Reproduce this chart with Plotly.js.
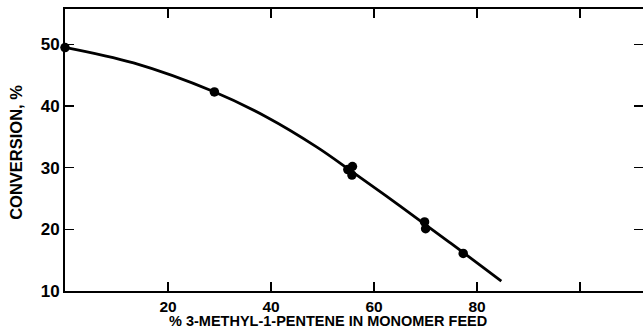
<!DOCTYPE html>
<html>
<head>
<meta charset="utf-8">
<script src="https://cdn.plot.ly/plotly-3.0.1.min.js"></script>
<style>
html,body{margin:0;padding:0;background:#fff;}
#chart{width:643px;height:331px;}
</style>
</head>
<body>
<div id="chart"></div>
<script>
// Measured points
var pointX = [0, 29.0, 54.9, 55.8, 55.7, 69.8, 70.0, 77.3];
var pointY = [49.5, 42.3, 29.7, 30.2, 28.8, 21.2, 20.1, 16.1];

// Fitted curve
var curveX = [0.2, 13.3, 28.7, 39.2, 48.9, 55.5, 65.0, 74.8, 84.7];
var curveY = [49.5, 47.0, 42.4, 38.2, 33.35, 29.5, 23.8, 17.8, 11.6];

var xTickVals = [20, 40, 60, 80, 100];
var xTickText = ['20', '40', '60', '80', ''];
var yTickVals = [10, 20, 30, 40, 50];
var yTickText = ['10', '20', '30', '40', '50'];

var xTitle = '% 3-METHYL-1-PENTENE IN MONOMER FEED';
var yTitle = 'CONVERSION, %';

var fontFam = 'Liberation Sans, Arial, sans-serif';

var traces = [
  {
    x: curveX, y: curveY, mode: 'lines', type: 'scatter',
    line: {color: '#000', width: 2.8, shape: 'spline', smoothing: 1},
    hoverinfo: 'skip', showlegend: false
  },
  {
    x: pointX, y: pointY, mode: 'markers', type: 'scatter',
    marker: {color: '#000', size: 9.5, symbol: 'circle'},
    cliponaxis: false,
    showlegend: false
  }
];

var axisCommon = {
  showgrid: false, zeroline: false,
  showline: true, linecolor: '#000', linewidth: 2,
  ticks: 'inside', ticklen: 9, tickwidth: 1.5, tickcolor: '#000',
  mirror: 'ticks'
};

var layout = {
  width: 643, height: 331,
  margin: {l: 65, r: 0, t: 9, b: 40},
  paper_bgcolor: '#fff', plot_bgcolor: '#fff',
  xaxis: Object.assign({}, axisCommon, {
    range: [0, 112.2],
    tickmode: 'array', tickvals: xTickVals, ticktext: xTickText,
    tickfont: {family: fontFam, size: 15.5, color: '#000', weight: 'bold'}
  }),
  yaxis: Object.assign({}, axisCommon, {
    range: [10, 55.75],
    tickmode: 'array', tickvals: yTickVals, ticktext: yTickText,
    tickfont: {family: fontFam, size: 17, color: '#000', weight: 'bold'}
  }),
  annotations: [
    {text: xTitle, xref: 'paper', yref: 'paper', x: 0.455, y: 0,
     yshift: -39, xanchor: 'center', yanchor: 'bottom', showarrow: false,
     borderpad: 0,
     font: {family: fontFam, size: 14.5, color: '#000', weight: 'bold'}},
    {text: yTitle, xref: 'paper', yref: 'paper', x: 0, y: 0.49,
     xshift: -49, xanchor: 'center', yanchor: 'middle', showarrow: false,
     textangle: -90,
     font: {family: fontFam, size: 16.5, color: '#000', weight: 'bold'}}
  ]
};

Plotly.newPlot('chart', traces, layout, {displayModeBar: false, staticPlot: true});
</script>
</body>
</html>
